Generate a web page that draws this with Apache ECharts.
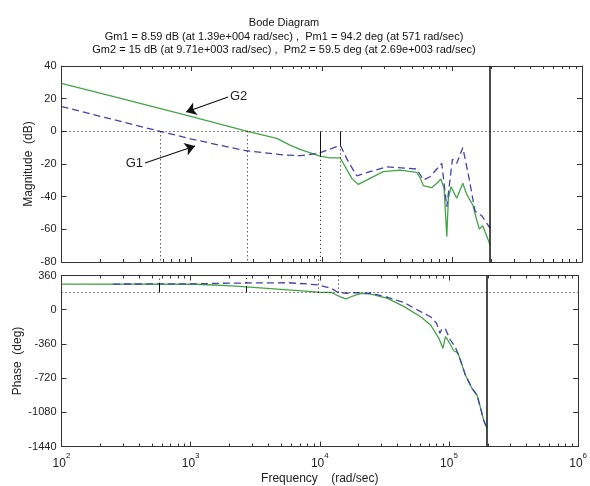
<!DOCTYPE html>
<html>
<head>
<meta charset="utf-8">
<script src="https://cdn.jsdelivr.net/npm/echarts@6/dist/echarts.min.js"></script>
<style>
  html, body { margin: 0; padding: 0; background: #fff; }
  #chart { width: 590px; height: 486px; }
</style>
</head>
<body>
<div id="chart"></div>
<script>
// ---------- data ----------
const titleLines = [
  'Bode Diagram',
  'Gm1 = 8.59 dB (at 1.39e+004 rad/sec) ,  Pm1 = 94.2 deg (at 571 rad/sec)',
  'Gm2 = 15 dB (at 9.71e+003 rad/sec) ,  Pm2 = 59.5 deg (at 2.69e+003 rad/sec)'
];

// magnitude, G1 (dashed blue)
const g1MagFreq = [100, 571, 1000, 1700, 2650, 5070, 6810, 9420, 13900, 16000, 18600, 23500, 31600,
  53700, 60400, 67900, 83600, 91400, 101000, 109000, 121300, 134000, 150700, 169800, 196800];
const g1MagDb = [15.2, 0, -4.7, -8.8, -11.9, -14.5, -14.9, -13.5, -8.6, -18.6, -27.2, -24.7, -21.7,
  -23.1, -29.8, -27.8, -19.6, -46.2, -17, -19.6, -10, -26.7, -48.8, -51.7, -59.4];

// magnitude, G2 (solid green)
const g2MagFreq = [100, 316, 1000, 2690, 4510, 5700, 6810, 9710, 11590, 13840, 17020, 19100, 23500,
  29700, 40000, 53700, 57000, 60400, 70000, 76600, 82200, 87100, 91400, 94000, 98600, 109000,
  121300, 130000, 144900, 155200, 162600, 172600, 196800];
const g2MagDb = [29.4, 19.3, 9, 0, -4.3, -8.4, -11, -15.2, -16.3, -16.2, -28.8, -32.5, -28.8,
  -24.7, -23.7, -25.1, -28.4, -33.3, -34.5, -31.8, -29.2, -34.9, -64.5, -41, -33.9, -41,
  -31.8, -38.6, -45.1, -54.3, -59.8, -57.8, -69.6];

// phase, G1 (dashed blue)
const g1PhFreq = [250, 1100, 2000, 5700, 8130, 9710, 12300, 13900, 16000, 18600, 24900, 33500,
  45000, 60400, 72100, 80200, 85100, 88700, 94000, 102600, 112200, 122500, 134000, 150700,
  164800, 174600, 185400, 196800];
const g1PhDeg = [270, 272, 280, 284, 270, 260, 225, 180, 173, 179, 173, 131,
  74, -21, -74, -143, -248, -196, -206, -319, -396, -529, -687, -827,
  -898, -1021, -1161, -1248];

// phase, G2 (solid green)
const g2PhFreq = [100, 1100, 2100, 2690, 6810, 9710, 12300, 14700, 16000, 18000, 20900, 24900,
  33500, 45000, 60400, 72100, 83600, 89700, 94000, 99800, 109000, 117000, 122500, 134000,
  150700, 164800, 174600, 185400, 196800];
const g2PhDeg = [270, 268, 250, 239.5, 200, 185, 181, 130, 113, 144, 172, 165,
  120, 32, -74, -161, -301, -406, -284, -337, -432, -453, -529, -687,
  -827, -898, -1021, -1161, -1248];

// stability margins
const gmFreq = [13900, 9710];
const gmDb = [8.59, 15];
const pmFreq = [571, 2690];
const pmDeg = [94.2, 59.5];
const nyquistFreq = 197000;

// tick values
const decades = [100, 1000, 10000, 100000, 1000000];
const magTicks = { min: -80, max: 40, interval: 20 };
const phTicks = { min: -1440, max: 360, interval: 360 };

// ---------- styling ----------
const FONT = 'Liberation Sans, Arial, sans-serif';
const INK = '#222';
const AXIS = '#333';
const GREEN = '#44a447';
const BLUE = '#4343a8';
const DOT = [1, 3];

const minorTicks = [];
decades.slice(0, -1).forEach(d => { for (let k = 2; k <= 9; k++) minorTicks.push(d * k); });

const zip = (xs, ys) => xs.map((x, i) => [x, ys[i]]);

function freqAxis(gridIndex, position, major, labels, name) {
  return {
    type: 'log', logBase: 10, min: 100, max: 1e6, gridIndex, position,
    axisLine: { show: major, onZero: false, lineStyle: { color: AXIS, width: 1 } },
    axisTick: {
      show: true, inside: true, length: major ? 5 : 3,
      customValues: major ? decades : minorTicks,
      lineStyle: { color: AXIS }
    },
    axisLabel: {
      show: labels, margin: 5, customValues: decades,
      formatter: v => '{b|10}{e|' + Math.round(Math.log10(v)) + '}',
      rich: {
        b: { fontSize: 12, fontFamily: FONT, color: INK, lineHeight: 18, verticalAlign: 'bottom' },
        e: { fontSize: 8, fontFamily: FONT, color: INK, lineHeight: 9, verticalAlign: 'top' }
      }
    },
    splitLine: { show: false },
    name: name || '', nameLocation: 'middle', nameGap: 26, nameMoveOverlap: false,
    nameTextStyle: { fontSize: 12, fontFamily: FONT, color: INK }
  };
}

function valueAxis(gridIndex, position, ticks, name, gap) {
  const left = position === 'left';
  return {
    type: 'value', gridIndex, position,
    min: ticks.min, max: ticks.max, interval: ticks.interval,
    axisLine: { show: true, onZero: false, lineStyle: { color: AXIS, width: 1 } },
    axisTick: { show: true, inside: true, length: 5, lineStyle: { color: AXIS } },
    axisLabel: { show: left, margin: 5, fontSize: 11, fontFamily: FONT, color: INK, formatter: v => String(v) },
    splitLine: { show: false },
    name: left ? name : '', nameLocation: 'middle', nameGap: gap || 0, nameMoveOverlap: false,
    nameTextStyle: { fontSize: 12, fontFamily: FONT, color: INK }
  };
}

const vline = (x, y1, y2, type) => [
  { coord: [x, y1], lineStyle: { type, color: '#111', width: 1 } },
  { coord: [x, y2] }
];

// margin markers on the magnitude plot
const magMarks = [{ yAxis: 0, lineStyle: { type: DOT, color: '#111', width: 1 } }];
pmFreq.forEach(f => magMarks.push(vline(f, 0, magTicks.min, DOT)));
gmFreq.forEach((f, i) => {
  magMarks.push(vline(f, 0, -gmDb[i], 'solid'));
  magMarks.push(vline(f, -gmDb[i], magTicks.min, DOT));
});
magMarks.push({ xAxis: nyquistFreq, lineStyle: { type: 'solid', color: '#111', width: 1.5 } });

// arrows with series names
const arrowG2 = [{ coord: [1905, 21], label: { show: true, position: 'start', formatter: 'G2' } }, { coord: [906, 11.8] }];
const arrowG1 = [{ coord: [438, -19.4], label: { show: true, position: 'start', formatter: 'G1' } }, { coord: [1062, -9.0] }];

// margin markers on the phase plot
const phMarks = [{ yAxis: 180, lineStyle: { type: DOT, color: '#111', width: 1 } }];
pmFreq.forEach((f, i) => {
  phMarks.push(vline(f, 180, 180 + pmDeg[i], 'solid'));
  phMarks.push(vline(f, 180 + pmDeg[i], phTicks.max, DOT));
});
gmFreq.forEach(f => phMarks.push(vline(f, 180, phTicks.max, DOT)));
phMarks.push({ xAxis: nyquistFreq, lineStyle: { type: 'solid', color: '#111', width: 1.5 } });

const lineBase = { type: 'line', showSymbol: false, symbol: 'none', silent: true, animation: false };

const option = {
  backgroundColor: '#fff',
  animation: false,
  graphic: [{
    type: 'text', x: 284, y: 16.5, silent: true,
    style: {
      text: titleLines.join('\n'), align: 'center', verticalAlign: 'top',
      fontSize: 11, fontFamily: FONT, lineHeight: 13.5, fill: '#111'
    }
  }],
  grid: [
    { left: 61.5, right: 8, top: 66, height: 196 },
    { left: 61.5, right: 8, top: 275.5, height: 171 }
  ],
  xAxis: [
    freqAxis(0, 'bottom', true, false),
    freqAxis(0, 'bottom', false, false),
    freqAxis(0, 'top', true, false),
    freqAxis(0, 'top', false, false),
    freqAxis(1, 'bottom', true, true, 'Frequency    (rad/sec)'),
    freqAxis(1, 'bottom', false, false),
    freqAxis(1, 'top', true, false),
    freqAxis(1, 'top', false, false)
  ],
  yAxis: [
    valueAxis(0, 'left', magTicks, 'Magnitude  (dB)', 27),
    valueAxis(0, 'right', magTicks),
    valueAxis(1, 'left', phTicks, 'Phase  (deg)', 38),
    valueAxis(1, 'right', phTicks)
  ],
  series: [
    {
      ...lineBase, name: 'G1', xAxisIndex: 0, yAxisIndex: 0,
      data: zip(g1MagFreq, g1MagDb),
      lineStyle: { color: BLUE, width: 1.3, type: [7, 4] }, z: 3
    },
    {
      ...lineBase, name: 'G2', xAxisIndex: 0, yAxisIndex: 0,
      data: zip(g2MagFreq, g2MagDb),
      lineStyle: { color: GREEN, width: 1.3 }, z: 2,
      markLine: {
        silent: true, animation: false, symbol: ['none', 'none'],
        label: { show: false },
        data: magMarks
      }
    },
    {
      ...lineBase, name: 'arrows', xAxisIndex: 0, yAxisIndex: 0, data: [],
      markLine: {
        silent: true, animation: false, symbol: ['none', 'arrow'], symbolSize: 10,
        lineStyle: { color: '#111', width: 1.2, type: 'solid' },
        label: { show: true, fontSize: 13, fontFamily: FONT, color: INK, distance: 2 },
        data: [arrowG2, arrowG1]
      }
    },
    {
      ...lineBase, name: 'G1 phase', xAxisIndex: 4, yAxisIndex: 2,
      data: zip(g1PhFreq, g1PhDeg),
      lineStyle: { color: BLUE, width: 1.3, type: [7, 4] }, z: 3
    },
    {
      ...lineBase, name: 'G2 phase', xAxisIndex: 4, yAxisIndex: 2,
      data: zip(g2PhFreq, g2PhDeg),
      lineStyle: { color: GREEN, width: 1.3 }, z: 2,
      markLine: {
        silent: true, animation: false, symbol: ['none', 'none'],
        label: { show: false },
        data: phMarks
      }
    }
  ]
};

const chart = echarts.init(document.getElementById('chart'), null, { renderer: 'canvas' });
chart.setOption(option);
</script>
</body>
</html>
